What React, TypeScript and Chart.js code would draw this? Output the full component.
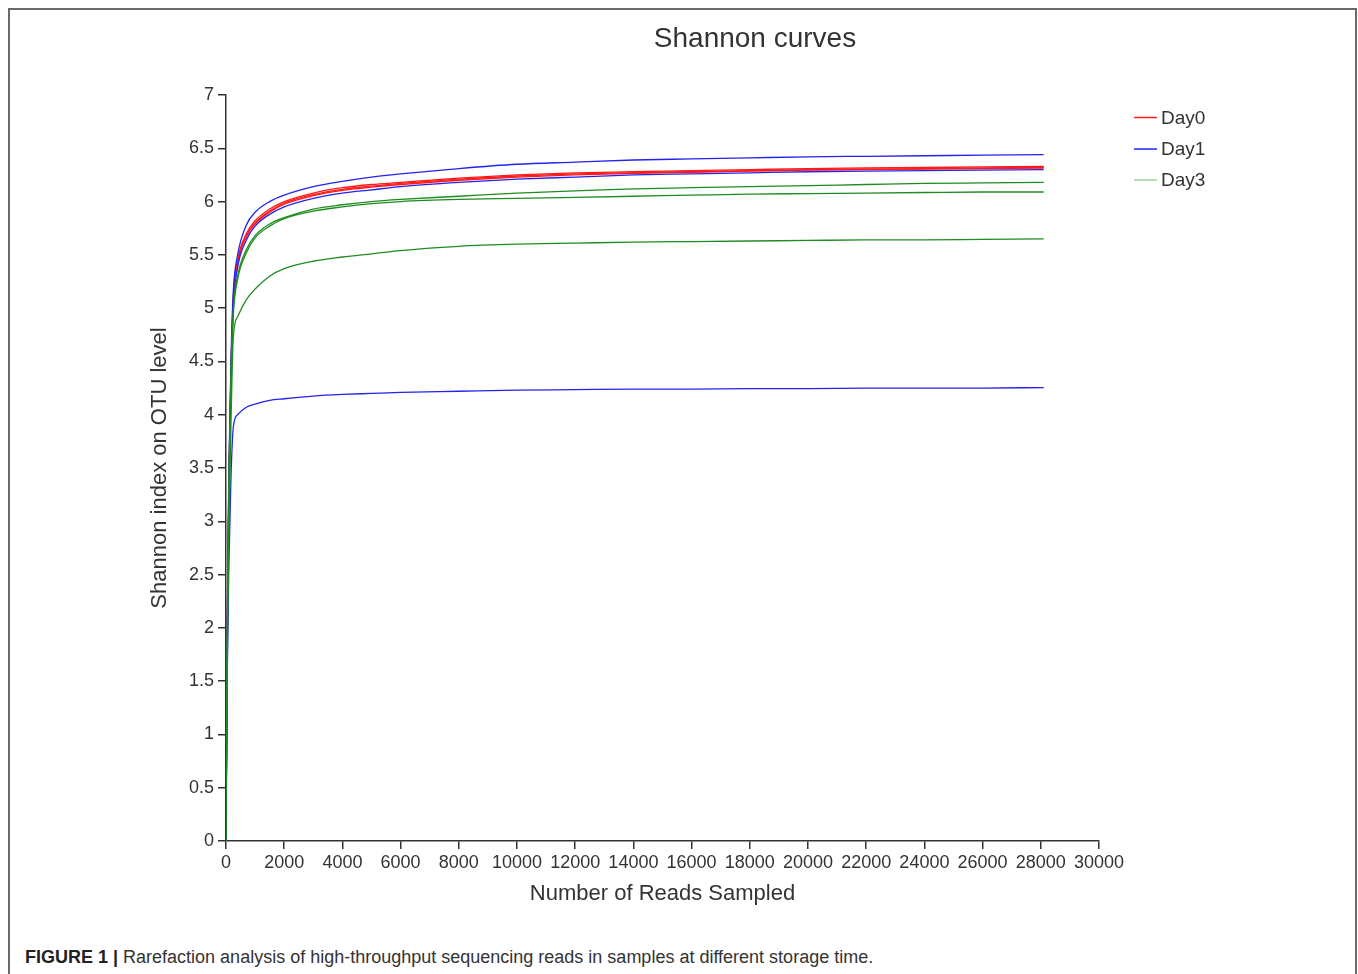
import React, { useEffect, useRef } from "react";
import { Chart, registerables } from "chart.js";

Chart.register(...registerables);

const titleText = "Shannon curves";
const yTitle = "Shannon index on OTU level";
const xTitle = "Number of Reads Sampled";
const caption = "Rarefaction analysis of high-throughput sequencing reads in samples at different storage time.";

const reads = [0, 40, 100, 170, 250, 400, 700, 1000, 1500, 2000, 3000, 4000, 5000, 6000, 8000, 10000, 12000, 14000, 16000, 18000, 20000, 22000, 24000, 26000, 28100];

const day0a = [0, 1.9, 3.4, 4.4, 5.1, 5.45, 5.7, 5.82, 5.93, 6.0, 6.08, 6.13, 6.16, 6.18, 6.22, 6.25, 6.27, 6.28, 6.29, 6.3, 6.31, 6.315, 6.32, 6.325, 6.33];
const day0b = [0, 1.85, 3.35, 4.35, 5.07, 5.43, 5.68, 5.8, 5.91, 5.985, 6.065, 6.115, 6.145, 6.17, 6.21, 6.24, 6.26, 6.27, 6.28, 6.29, 6.3, 6.305, 6.31, 6.315, 6.32];
const day0c = [0, 1.8, 3.3, 4.3, 5.05, 5.42, 5.67, 5.79, 5.9, 5.975, 6.055, 6.105, 6.135, 6.16, 6.2, 6.23, 6.25, 6.265, 6.275, 6.285, 6.295, 6.3, 6.305, 6.31, 6.315];

const day1a = [0, 2.0, 3.5, 4.5, 5.15, 5.5, 5.78, 5.9, 6.0, 6.06, 6.14, 6.19, 6.23, 6.26, 6.31, 6.35, 6.37, 6.39, 6.4, 6.41, 6.42, 6.425, 6.43, 6.435, 6.44];
const day1b = [0, 1.7, 3.2, 4.3, 5.0, 5.38, 5.64, 5.77, 5.88, 5.95, 6.03, 6.08, 6.11, 6.14, 6.18, 6.21, 6.23, 6.25, 6.26, 6.27, 6.28, 6.285, 6.29, 6.295, 6.3];
const day1c = [0, 1.5, 2.6, 3.4, 3.88, 4.0, 4.07, 4.1, 4.135, 4.15, 4.175, 4.19, 4.2, 4.21, 4.22, 4.23, 4.235, 4.24, 4.24, 4.245, 4.245, 4.25, 4.25, 4.25, 4.255];

const day3a = [0, 1.9, 3.4, 4.4, 4.98, 5.3, 5.55, 5.68, 5.79, 5.85, 5.93, 5.97, 6.0, 6.02, 6.05, 6.08, 6.1, 6.12, 6.13, 6.14, 6.15, 6.16, 6.17, 6.175, 6.18];
const day3b = [0, 1.8, 3.3, 4.3, 4.93, 5.27, 5.52, 5.66, 5.77, 5.84, 5.91, 5.95, 5.98, 6.0, 6.02, 6.03, 6.04, 6.05, 6.06, 6.07, 6.075, 6.08, 6.085, 6.09, 6.09];
const day3c = [0, 1.6, 2.9, 3.9, 4.72, 4.92, 5.08, 5.18, 5.3, 5.37, 5.44, 5.48, 5.51, 5.54, 5.58, 5.6, 5.61, 5.62, 5.625, 5.63, 5.635, 5.64, 5.64, 5.645, 5.65];

const legendLabels = ["Day0", "Day1", "Day3"];
const legendColors = ["#ff1a1a", "#2323f0", "#9fd09f"];

const groups = [
  { color: "#ff1a1a", series: [day0a, day0b, day0c] },
  { color: "#2323f0", series: [day1a, day1b, day1c] },
  { color: "#1f8c1f", series: [day3a, day3b, day3c] },
];

const FONT = "'Liberation Sans', Arial, Helvetica, sans-serif";

export default function App() {
  const ref = useRef<HTMLCanvasElement | null>(null);

  useEffect(() => {
    if (!ref.current) return;
    const datasets: any[] = [];
    [2, 1, 0].forEach((gi) => {
      const g = groups[gi];
      g.series.forEach((s, si) => {
        datasets.push({
          label: legendLabels[gi] + "-" + si,
          data: s.map((v, i) => ({ x: reads[i], y: v })),
          borderColor: g.color,
          borderWidth: 1.3,
          pointRadius: 0,
          fill: false,
          cubicInterpolationMode: "monotone",
        });
      });
    });

    const overlay = {
      id: "overlay",
      afterDraw(chart: any) {
        const ctx = chart.ctx;
        ctx.save();
        ctx.fillStyle = "#333";
        ctx.font = `28px ${FONT}`;
        ctx.textAlign = "center";
        ctx.textBaseline = "middle";
        ctx.fillText(titleText, 745, 29);
        ctx.font = `19px ${FONT}`;
        ctx.textAlign = "left";
        const ys = [107.5, 139, 170];
        legendLabels.forEach((lab, i) => {
          ctx.strokeStyle = legendColors[i];
          ctx.lineWidth = 1.5;
          ctx.beginPath();
          ctx.moveTo(1124, ys[i]);
          ctx.lineTo(1147, ys[i]);
          ctx.stroke();
          ctx.fillStyle = "#333";
          ctx.fillText(lab, 1151, ys[i] + 1);
        });
        ctx.restore();
      },
    };

    const chart = new Chart(ref.current, {
      type: "line",
      data: { datasets },
      options: {
        animation: false,
        responsive: false,
        layout: { padding: { left: 134, right: 256, top: 85, bottom: 19 } },
        plugins: {
          legend: { display: false },
          title: { display: false },
          tooltip: { enabled: false },
        },
        scales: {
          x: {
            type: "linear",
            min: 0,
            max: 30000,
            afterFit: (s: any) => {
              s.height = 70;
            },
            ticks: {
              stepSize: 2000,
              autoSkip: false,
              maxRotation: 0,
              padding: 3,
              color: "#333",
              font: { size: 18, family: FONT },
              callback: (v: any) => String(v),
            },
            grid: { drawOnChartArea: false, drawTicks: true, tickLength: 8, color: "#333", lineWidth: 1.5 },
            border: { display: true, color: "#333", width: 1.5 },
            title: { display: true, text: xTitle, color: "#333", font: { size: 22, family: FONT } },
          },
          y: {
            type: "linear",
            min: 0,
            max: 7,
            afterFit: (s: any) => {
              s.width = 82;
            },
            ticks: {
              stepSize: 0.5,
              padding: 4,
              color: "#333",
              font: { size: 18, family: FONT },
              callback: (v: any) => String(v),
            },
            grid: { drawOnChartArea: false, drawTicks: true, tickLength: 8, color: "#333", lineWidth: 1.5 },
            border: { display: true, color: "#333", width: 1.5 },
            title: { display: true, text: yTitle, color: "#333", font: { size: 22, family: FONT }, padding: { top: 3, bottom: 4 } },
          },
        },
      },
      plugins: [overlay],
    });
    return () => chart.destroy();
  }, []);

  return (
    <div
      style={{
        position: "fixed",
        left: 8,
        top: 8,
        width: 1349,
        height: 990,
        boxSizing: "border-box",
        borderTop: "2px solid #6a6a6a",
        borderLeft: "2px solid #6a6a6a",
        borderRight: "2px solid #6a6a6a",
        background: "#fff",
      }}
    >
      <canvas ref={ref} width={1345} height={920} style={{ position: "absolute", left: 0, top: 0, width: 1345, height: 920 }} />
      <div
        style={{
          position: "absolute",
          left: 15,
          top: 937,
          fontFamily: FONT,
          fontSize: 18,
          lineHeight: "20px",
          color: "#333",
          whiteSpace: "nowrap",
        }}
      >
        <b style={{ color: "#222" }}>FIGURE 1 | </b>
        {caption}
      </div>
    </div>
  );
}
